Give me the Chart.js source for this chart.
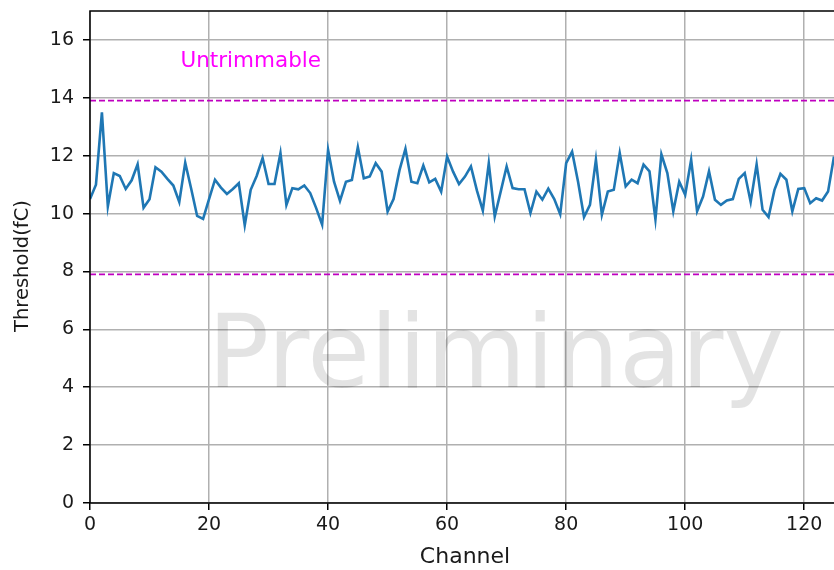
<!DOCTYPE html>
<html>
<head>
<meta charset="utf-8">
<title>Threshold per channel</title>
<script src="https://cdn.jsdelivr.net/npm/chart.js@4.4.1/dist/chart.umd.min.js"></script>
<style>
  html, body { margin: 0; padding: 0; background: #ffffff; }
  #wrap { width: 834px; height: 570px; }
</style>
</head>
<body>
<div id="wrap"><canvas id="chart" width="834" height="570"></canvas></div>
<script>
// Measured threshold (fC) for each channel, channel 0 first
const threshold = [
  10.50, 11.00, 13.50, 10.25, 11.40, 11.30, 10.85, 11.15, 11.70, 10.20,
  10.50, 11.60, 11.45, 11.20, 10.97, 10.40, 11.76, 10.86,  9.92,  9.82,
  10.50, 11.17, 10.90, 10.68, 10.85, 11.05,  9.60, 10.82, 11.30, 11.92,
  11.02, 11.02, 12.09, 10.30, 10.88, 10.84, 10.97, 10.71, 10.19,  9.62,
  12.20, 11.10, 10.44, 11.10, 11.16, 12.30, 11.22, 11.28, 11.74, 11.45,
  10.07, 10.50, 11.50, 12.24, 11.10, 11.05, 11.66, 11.08, 11.20, 10.76,
  11.97, 11.45, 11.02, 11.28, 11.63, 10.80, 10.10, 11.74,  9.90, 10.76,
  11.63, 10.88, 10.84, 10.84, 10.02, 10.76, 10.48, 10.86, 10.50,  9.98,
  11.74, 12.14, 11.10,  9.88, 10.30, 11.86,  9.96, 10.76, 10.82, 12.09,
  10.94, 11.17, 11.05, 11.69, 11.46,  9.80, 12.05, 11.40, 10.08, 11.10,
  10.65, 11.86, 10.08, 10.59, 11.46, 10.48, 10.30, 10.45, 10.50, 11.20,
  11.40, 10.40, 11.70, 10.13,  9.88, 10.82, 11.37, 11.17, 10.08, 10.85,
  10.88, 10.36, 10.53, 10.45, 10.76, 11.97
];
const channels = threshold.map((_, i) => i);

// Trim window limits (fC)
const trimLimits = [7.9, 13.9];

// Axis settings
const xRange = [0, 125];
const yRange = [0, 17];
const xTickStep = 20;
const yTickStep = 2;
const xTitle = 'Channel';
const yTitle = 'Threshold(fC)';

const FONT = 'DejaVu Sans';
const TEXT_COLOR = '#1a1a1a';

const lineData = channels.map((c, i) => ({ x: c, y: threshold[i] }));
const limitSets = trimLimits.map(v => ({
  data: [{ x: xRange[0], y: v }, { x: xRange[1], y: v }],
  borderColor: '#bf00bf',
  borderWidth: 1.8,
  borderDash: [6, 3],
  pointRadius: 0,
  fill: false
}));

// Frame around the plotting area, drawn over the data like axes spines
const framePlugin = {
  id: 'frame',
  afterDatasetsDraw(chart) {
    const { ctx, chartArea: a } = chart;
    ctx.save();
    ctx.strokeStyle = '#000';
    ctx.lineWidth = 1.5;
    ctx.beginPath();
    ctx.moveTo(a.left, a.bottom);
    ctx.lineTo(a.left, a.top);
    ctx.lineTo(a.right, a.top);
    ctx.moveTo(a.left, a.bottom);
    ctx.lineTo(a.right, a.bottom);
    ctx.stroke();
    ctx.restore();
  }
};

// Axis titles, placed in canvas pixels
const axisTitlePlugin = {
  id: 'axisTitles',
  afterDraw(chart) {
    const { ctx } = chart;
    ctx.save();
    ctx.fillStyle = TEXT_COLOR;
    ctx.textAlign = 'center';
    ctx.textBaseline = 'middle';
    ctx.font = '22px "' + FONT + '"';
    ctx.fillText(xTitle, 465, 557);
    ctx.translate(22.5, 266);
    ctx.rotate(-Math.PI / 2);
    ctx.font = '19.5px "' + FONT + '"';
    ctx.fillText(yTitle, 0, 0);
    ctx.restore();
  }
};

// Annotations placed in data coordinates
const notes = [
  { text: 'Untrimmable', x: 15.2, y: 15.05, font: '21.5px "' + FONT + '"', color: '#ff00ff' },
];
const watermark = { text: 'Preliminary', x: 19.8, y: 4.0, font: '102px "' + FONT + '"', color: 'rgba(0,0,0,0.11)' };

const textPlugin = {
  id: 'texts',
  beforeDatasetsDraw(chart) {
    const { ctx, scales: { x, y } } = chart;
    ctx.save();
    ctx.font = watermark.font;
    ctx.fillStyle = watermark.color;
    ctx.textAlign = 'left';
    ctx.textBaseline = 'alphabetic';
    ctx.fillText(watermark.text, x.getPixelForValue(watermark.x), y.getPixelForValue(watermark.y));
    ctx.restore();
  },
  afterDatasetsDraw(chart) {
    const { ctx, scales: { x, y } } = chart;
    ctx.save();
    ctx.textAlign = 'left';
    ctx.textBaseline = 'alphabetic';
    notes.forEach(n => {
      ctx.font = n.font;
      ctx.fillStyle = n.color;
      ctx.fillText(n.text, x.getPixelForValue(n.x), y.getPixelForValue(n.y));
    });
    ctx.restore();
  }
};

new Chart(document.getElementById('chart'), {
  type: 'line',
  data: {
    datasets: [
      {
        data: lineData,
        borderColor: '#1f77b4',
        borderWidth: 2.6,
        pointRadius: 0,
        tension: 0,
        fill: false
      },
      ...limitSets
    ]
  },
  options: {
    responsive: false,
    devicePixelRatio: 1,
    animation: false,
    layout: { padding: { top: 11, right: 0, bottom: 0, left: 0 } },
    plugins: {
      legend: { display: false },
      tooltip: { enabled: false }
    },
    scales: {
      x: {
        type: 'linear',
        min: xRange[0],
        max: xRange[1],
        afterFit(scale) {
          scale.height = 67;
          scale.paddingLeft = 0;
          scale.paddingRight = 0;
        },
        ticks: {
          stepSize: xTickStep,
          includeBounds: false,
          maxRotation: 0,
          padding: 4,
          color: TEXT_COLOR,
          font: { family: FONT, size: 19 }
        },
        grid: {
          color: '#b0b0b0',
          lineWidth: 1.5,
          tickColor: '#000',
          tickLength: 7,
          tickWidth: 1.5
        },
        border: { display: false },
        title: { display: false }
      },
      y: {
        type: 'linear',
        min: yRange[0],
        max: yRange[1],
        afterFit(scale) {
          scale.width = 90;
          scale.paddingTop = 0;
          scale.paddingBottom = 0;
        },
        ticks: {
          stepSize: yTickStep,
          includeBounds: false,
          padding: 9,
          color: TEXT_COLOR,
          font: { family: FONT, size: 19 }
        },
        grid: {
          color: '#b0b0b0',
          lineWidth: 1.5,
          tickColor: '#000',
          tickLength: 7,
          tickWidth: 1.5
        },
        border: { display: false },
        title: { display: false }
      }
    }
  },
  plugins: [textPlugin, framePlugin, axisTitlePlugin]
});
</script>
</body>
</html>
